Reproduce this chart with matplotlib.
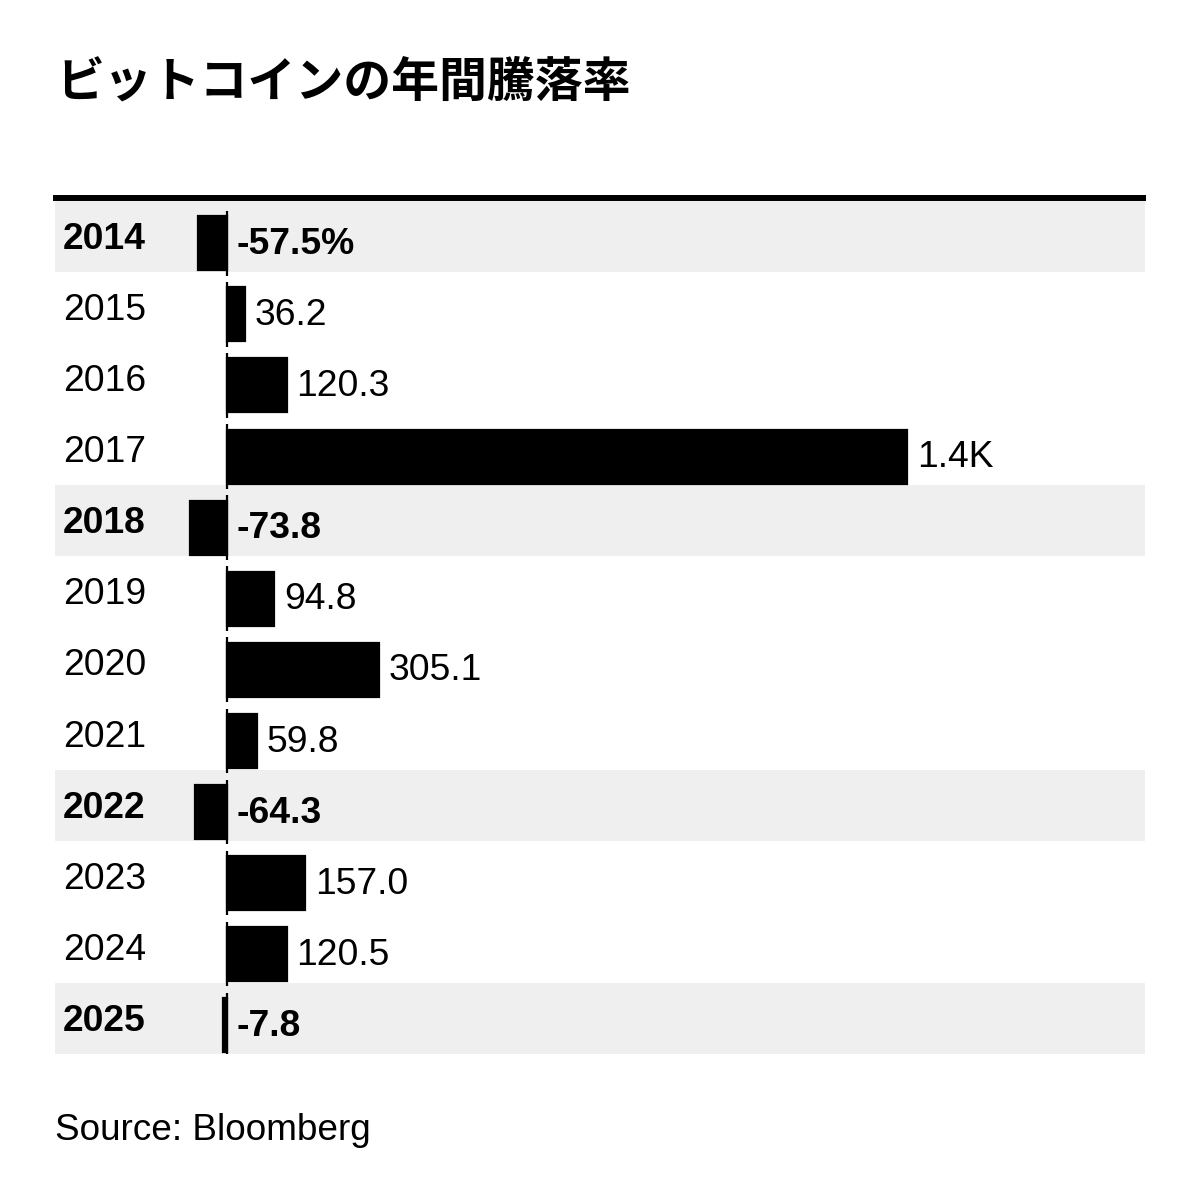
import matplotlib
matplotlib.use("Agg")
import matplotlib.pyplot as plt
import matplotlib.transforms as mtransforms
from matplotlib.lines import Line2D
import numpy as np

plt.rcParams['font.family'] = ['Liberation Sans', 'Noto Sans CJK JP', 'DejaVu Sans']

title = "ビットコインの年間騰落率"
source = "Source: Bloomberg"
years = ["2014", "2015", "2016", "2017", "2018", "2019", "2020", "2021",
         "2022", "2023", "2024", "2025"]
returns = [-57.5, 36.2, 120.3, 1369.0, -73.8, 94.8, 305.1, 59.8,
           -64.3, 157.0, 120.5, -7.8]


def fmt(v, first=False):
    if abs(v) >= 1000:
        s = f"{v/1000:.1f}K"
    else:
        s = f"{v:.1f}"
    return s + ("%" if first else "")


W, H = 1200, 1199
fig = plt.figure(figsize=(W / 100, H / 100), dpi=100)
fig.patch.set_facecolor("white")

ax_l, ax_r = 55, 1145
ax_t, ax_b = 201, 1054
ax = fig.add_axes([ax_l / W, 1 - ax_b / H, (ax_r - ax_l) / W, (ax_b - ax_t) / H])
ax.set_axis_off()

px_per_unit = 0.497
zero_px = 227
ax.set_xlim(-(zero_px - ax_l) / px_per_unit, (ax_r - zero_px) / px_per_unit)
n = len(years)
ax.set_ylim(n, 0)

idx = np.arange(n)
neg = [v < 0 for v in returns]

# gray background for negative rows
for i in idx:
    if neg[i]:
        ax.axhspan(i, i + 1, color="#efefef", lw=0, zorder=0)

# bars
ax.barh(idx + 0.595, returns, height=0.76, color="black",
        edgecolor="black", linewidth=1.6, zorder=2)

# zero line segments per row
ax.vlines(np.zeros(n), idx + 0.14, idx + 1.05, colors="black",
          linewidth=1.6, zorder=3)

label_fs = 26.8

# year labels
trans = mtransforms.blended_transform_factory(ax.transAxes, ax.transData)
for i, y in enumerate(years):
    ax.text((63 - ax_l) / (ax_r - ax_l), i + 0.675, y, transform=trans,
            ha="left", va="baseline", fontsize=label_fs,
            fontweight="bold" if neg[i] else "normal", color="black")

# value labels
for i, v in enumerate(returns):
    ax.annotate(fmt(v, first=(i == 0)), xy=(max(v, 0), i + 0.745),
                xytext=(7.0, 0), textcoords="offset points",
                ha="left", va="baseline", fontsize=label_fs,
                fontweight="bold" if neg[i] else "normal", color="black")

# top rule
fig.add_artist(Line2D([53 / W, 1146 / W], [1 - 198 / H, 1 - 198 / H],
                      color="black", linewidth=4.3, solid_capstyle="butt"))

# title
fig.text(56 / W, 1 - 82 / H, title, ha="left", va="center",
         fontsize=34.5, fontweight="bold", family="Noto Sans CJK JP",
         color="black")

# source
fig.text(55 / W, 1 - 1140 / H, source, ha="left", va="baseline",
         fontsize=26.6, color="black")

fig.savefig("out.png", dpi=100, facecolor="white")
